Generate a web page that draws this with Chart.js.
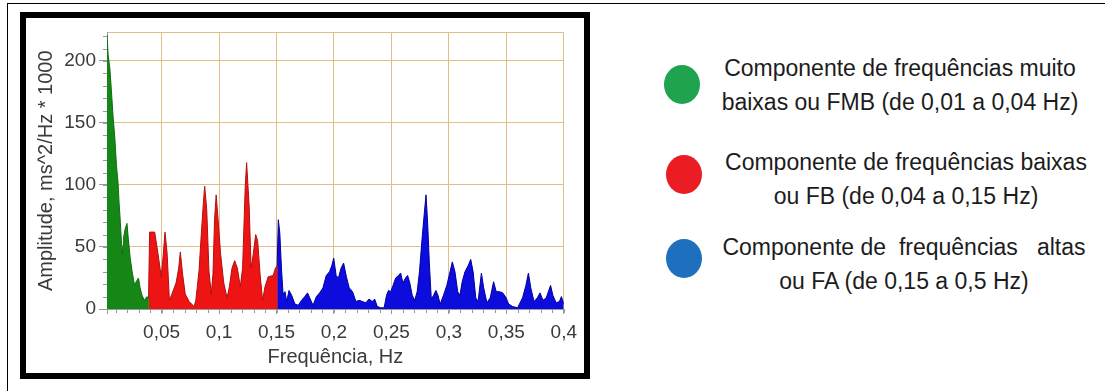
<!DOCTYPE html>
<html>
<head>
<meta charset="utf-8">
<script src="https://cdn.jsdelivr.net/npm/chart.js@4.4.1/dist/chart.umd.min.js"></script>
<style>
  body { margin: 0; background: #fff; width: 1105px; height: 391px; overflow: hidden; position: relative; font-family: "Liberation Sans", Arial, sans-serif; }
  #outer { position: absolute; left: 7px; top: 3px; right: 0; bottom: 0; border-top: 1.5px solid #000; border-left: 1.5px solid #000; }
  #frame { position: absolute; left: 20px; top: 12px; width: 558px; height: 355px; border: 6px solid #000; background: #fff; }
  #frame canvas { position: absolute; left: 0; top: 0; }
  .dot { position: absolute; width: 36px; height: 39px; border-radius: 50%; }
  .txt { position: absolute; width: 420px; text-align: center; font-size: 23px; line-height: 34px; color: #1c1c1c; white-space: pre; }
</style>
</head>
<body>
<div id="outer"></div>
<div id="frame"><canvas id="spectrumChart" width="558" height="355"></canvas></div>

<div class="dot" style="left:664px; top:65px; background:#1fa34f;"></div>
<div class="dot" style="left:666px; top:155px; background:#ec1c24;"></div>
<div class="dot" style="left:666px; top:239px; background:#1f6fbf;"></div>
<div class="txt" style="left:690px; top:51px;">Componente de frequências muito
baixas ou FMB (de 0,01 a 0,04 Hz)</div>
<div class="txt" style="left:696px; top:145px;">Componente de frequências baixas
ou FB (de 0,04 a 0,15 Hz)</div>
<div class="txt" style="left:694px; top:230px;">Componente de  frequências   altas
ou FA (de 0,15 a 0,5 Hz)</div>

<script>
// very low frequency band (FMB)
const vlfFreq = [0.0025, 0.0035, 0.005, 0.0064, 0.0078, 0.0093, 0.0107, 0.0121, 0.013, 0.0141,
  0.0152, 0.0158, 0.0165, 0.017, 0.0184, 0.0199, 0.021, 0.0227, 0.0244, 0.0265,
  0.0279, 0.0299, 0.0313, 0.033, 0.035, 0.0373, 0.0390];
const vlfAmp = [221, 205, 194, 175, 155, 138, 116, 102, 86, 70,
  52, 44, 52, 58, 65, 69, 57, 41, 30, 19,
  22, 25, 17, 11, 7, 10, 8];

// low frequency band (FB)
const lfFreq = [0.0386, 0.0396, 0.044, 0.0468, 0.0497, 0.051, 0.053, 0.0548, 0.0568, 0.059,
  0.0626, 0.0649, 0.0663, 0.0683, 0.0706, 0.074, 0.0783, 0.0798, 0.0826, 0.0846,
  0.0864, 0.0875, 0.0893, 0.0912, 0.0932, 0.0947, 0.0961, 0.0975, 0.0992, 0.1013,
  0.1041, 0.107, 0.109, 0.1113, 0.1136, 0.1159, 0.1185, 0.1205, 0.1228, 0.124,
  0.1262, 0.1279, 0.1299, 0.1319, 0.1336, 0.1357, 0.1379, 0.14, 0.1428, 0.1471,
  0.1491, 0.1510];
const lfAmp = [8, 62, 62, 45, 26, 39, 62, 45, 7, 12,
  21, 33, 46, 28, 12, 6, 2, 7, 31, 61,
  86, 99, 80, 31, 12, 28, 72, 92, 72, 45,
  21, 9, 18, 33, 39, 33, 18, 33, 99, 118,
  83, 33, 45, 60, 55, 28, 7, 18, 26, 27,
  33, 35];

// high frequency band (FA)
const hfFreq = [0.1505, 0.1516, 0.1529, 0.1543, 0.1557, 0.1574, 0.1589, 0.1609, 0.1632, 0.166,
  0.1689, 0.1718, 0.1746, 0.177, 0.1789, 0.1818, 0.1847, 0.1875, 0.1904, 0.1933,
  0.1961, 0.1981, 0.1998, 0.2019, 0.2039, 0.2062, 0.2084, 0.2108, 0.2133, 0.2162,
  0.2191, 0.2219, 0.2248, 0.2277, 0.2305, 0.2334, 0.2354, 0.2377, 0.2406, 0.2437,
  0.2457, 0.2475, 0.2494, 0.2514, 0.2537, 0.2561, 0.258, 0.26, 0.2623, 0.2641,
  0.266, 0.2681, 0.2703, 0.2724, 0.2744, 0.2767, 0.2787, 0.2801, 0.2815, 0.283,
  0.2847, 0.2867, 0.2887, 0.2905, 0.2924, 0.2953, 0.2982, 0.301, 0.303, 0.3053,
  0.3077, 0.3096, 0.3116, 0.314, 0.3168, 0.319, 0.3211, 0.3234, 0.3254, 0.3283,
  0.3303, 0.3331, 0.336, 0.3389, 0.3412, 0.344, 0.3469, 0.3498, 0.352, 0.3555,
  0.3598, 0.3641, 0.367, 0.3692, 0.3713, 0.3741, 0.377, 0.3793, 0.3819, 0.3847,
  0.3885, 0.3905, 0.3933, 0.3962, 0.3979, 0.4];
const hfAmp = [33, 72, 61, 33, 12, 14, 6, 15, 11, 4,
  3, 7, 10, 13, 9, 3, 10, 13, 17, 27,
  30, 35, 41, 27, 25, 33, 37, 26, 17, 14,
  6, 7, 6, 5, 8, 6, 8, 2, 1, 1,
  11, 15, 14, 19, 25, 27, 29, 21, 25, 27,
  21, 11, 7, 14, 30, 57, 78, 92, 70, 37,
  8, 11, 15, 11, 4, 11, 19, 30, 38, 30,
  14, 11, 22, 30, 35, 40, 30, 9, 6, 29,
  17, 5, 9, 22, 14, 14, 13, 9, 4, 2,
  1, 9, 19, 29, 17, 6, 9, 13, 7, 9,
  19, 11, 5, 6, 10, 4];

// axis ticks
const xTicks = [0.05, 0.1, 0.15, 0.2, 0.25, 0.3, 0.35, 0.4];
const yTicks = [0, 50, 100, 150, 200];

const xMin = 0.0025, xMax = 0.4;
const yMin = 0, yMax = 223;

const gridColor = "#e2bd88";
const axisColor = "#9a9a9a";
const textColor = "#3a3a3a";

const toPoints = (xs, ys) => xs.map((x, i) => ({ x: x, y: ys[i] }));

// small unlabelled ticks every 0.01 Hz and every 10 units
const minorTicks = {
  id: "minorTicks",
  afterDraw(chart) {
    const { ctx, scales: { x, y } } = chart;
    ctx.save();
    ctx.strokeStyle = axisColor;
    ctx.lineWidth = 1;
    ctx.beginPath();
    for (let i = 1; i <= 40; i++) {
      const px = Math.round(x.getPixelForValue(i / 100)) + 0.5;
      ctx.moveTo(px, y.bottom);
      ctx.lineTo(px, y.bottom + 4);
    }
    for (let v = 10; v <= 220; v += 10) {
      const py = Math.round(y.getPixelForValue(v)) + 0.5;
      ctx.moveTo(x.left - 4, py);
      ctx.lineTo(x.left, py);
    }
    ctx.stroke();
    ctx.restore();
  }
};

const band = (data, fill, line) => ({
  data: data,
  fill: "origin",
  backgroundColor: fill,
  borderColor: line,
  borderWidth: 1,
  pointRadius: 0,
  tension: 0
});

new Chart(document.getElementById("spectrumChart"), {
  type: "line",
  data: {
    datasets: [
      band(toPoints(vlfFreq, vlfAmp), "#168716", "#0f6e0f"),
      band(toPoints(lfFreq, lfAmp), "#ee1414", "#b01010"),
      band(toPoints(hfFreq, hfAmp), "#0c0cdc", "#0000a0"),
    ],
  },
  plugins: [minorTicks],
  options: {
    responsive: false,
    animation: false,
    layout: { padding: { left: 0, top: 14, right: 15, bottom: 0 } },
    plugins: { legend: { display: false }, tooltip: { enabled: false } },
    scales: {
      x: {
        type: "linear",
        min: xMin,
        max: xMax,
        afterFit: s => { s.height = 64; },
        afterBuildTicks: s => { s.ticks = [{ value: xMin }].concat(xTicks.map(v => ({ value: v }))); },
        ticks: {
          autoSkip: false,
          maxRotation: 0,
          padding: 7,
          color: textColor,
          font: { family: "Liberation Sans", size: 19 },
          callback: v => (v === xMin ? "" : String(+v.toFixed(2)).replace(".", ",")),
        },
        grid: { color: gridColor, tickColor: axisColor, tickLength: 5 },
        border: { display: true, color: axisColor },
        title: {
          display: true,
          text: "Frequência, Hz",
          color: textColor,
          font: { family: "Liberation Sans", size: 20 },
          padding: { top: 0, bottom: 4 },
        },
      },
      y: {
        min: yMin,
        max: yMax,
        afterFit: s => { s.width = 81; },
        afterBuildTicks: s => { s.ticks = yTicks.map(v => ({ value: v })).concat([{ value: yMax }]); },
        ticks: {
          autoSkip: false,
          padding: 3,
          color: textColor,
          font: { family: "Liberation Sans", size: 19 },
          callback: v => (v === yMax ? "" : v),
        },
        grid: {
          color: gridColor,
          tickLength: 8,
          tickColor: c => (c.tick && c.tick.value !== yMax ? axisColor : "transparent"),
        },
        border: { display: true, color: axisColor },
        title: {
          display: true,
          text: "Amplitude, ms^2/Hz * 1000",
          color: textColor,
          font: { family: "Liberation Sans", size: 20 },
          padding: { top: 8, bottom: 0 },
        },
      },
    },
  },
});
</script>
</body>
</html>
